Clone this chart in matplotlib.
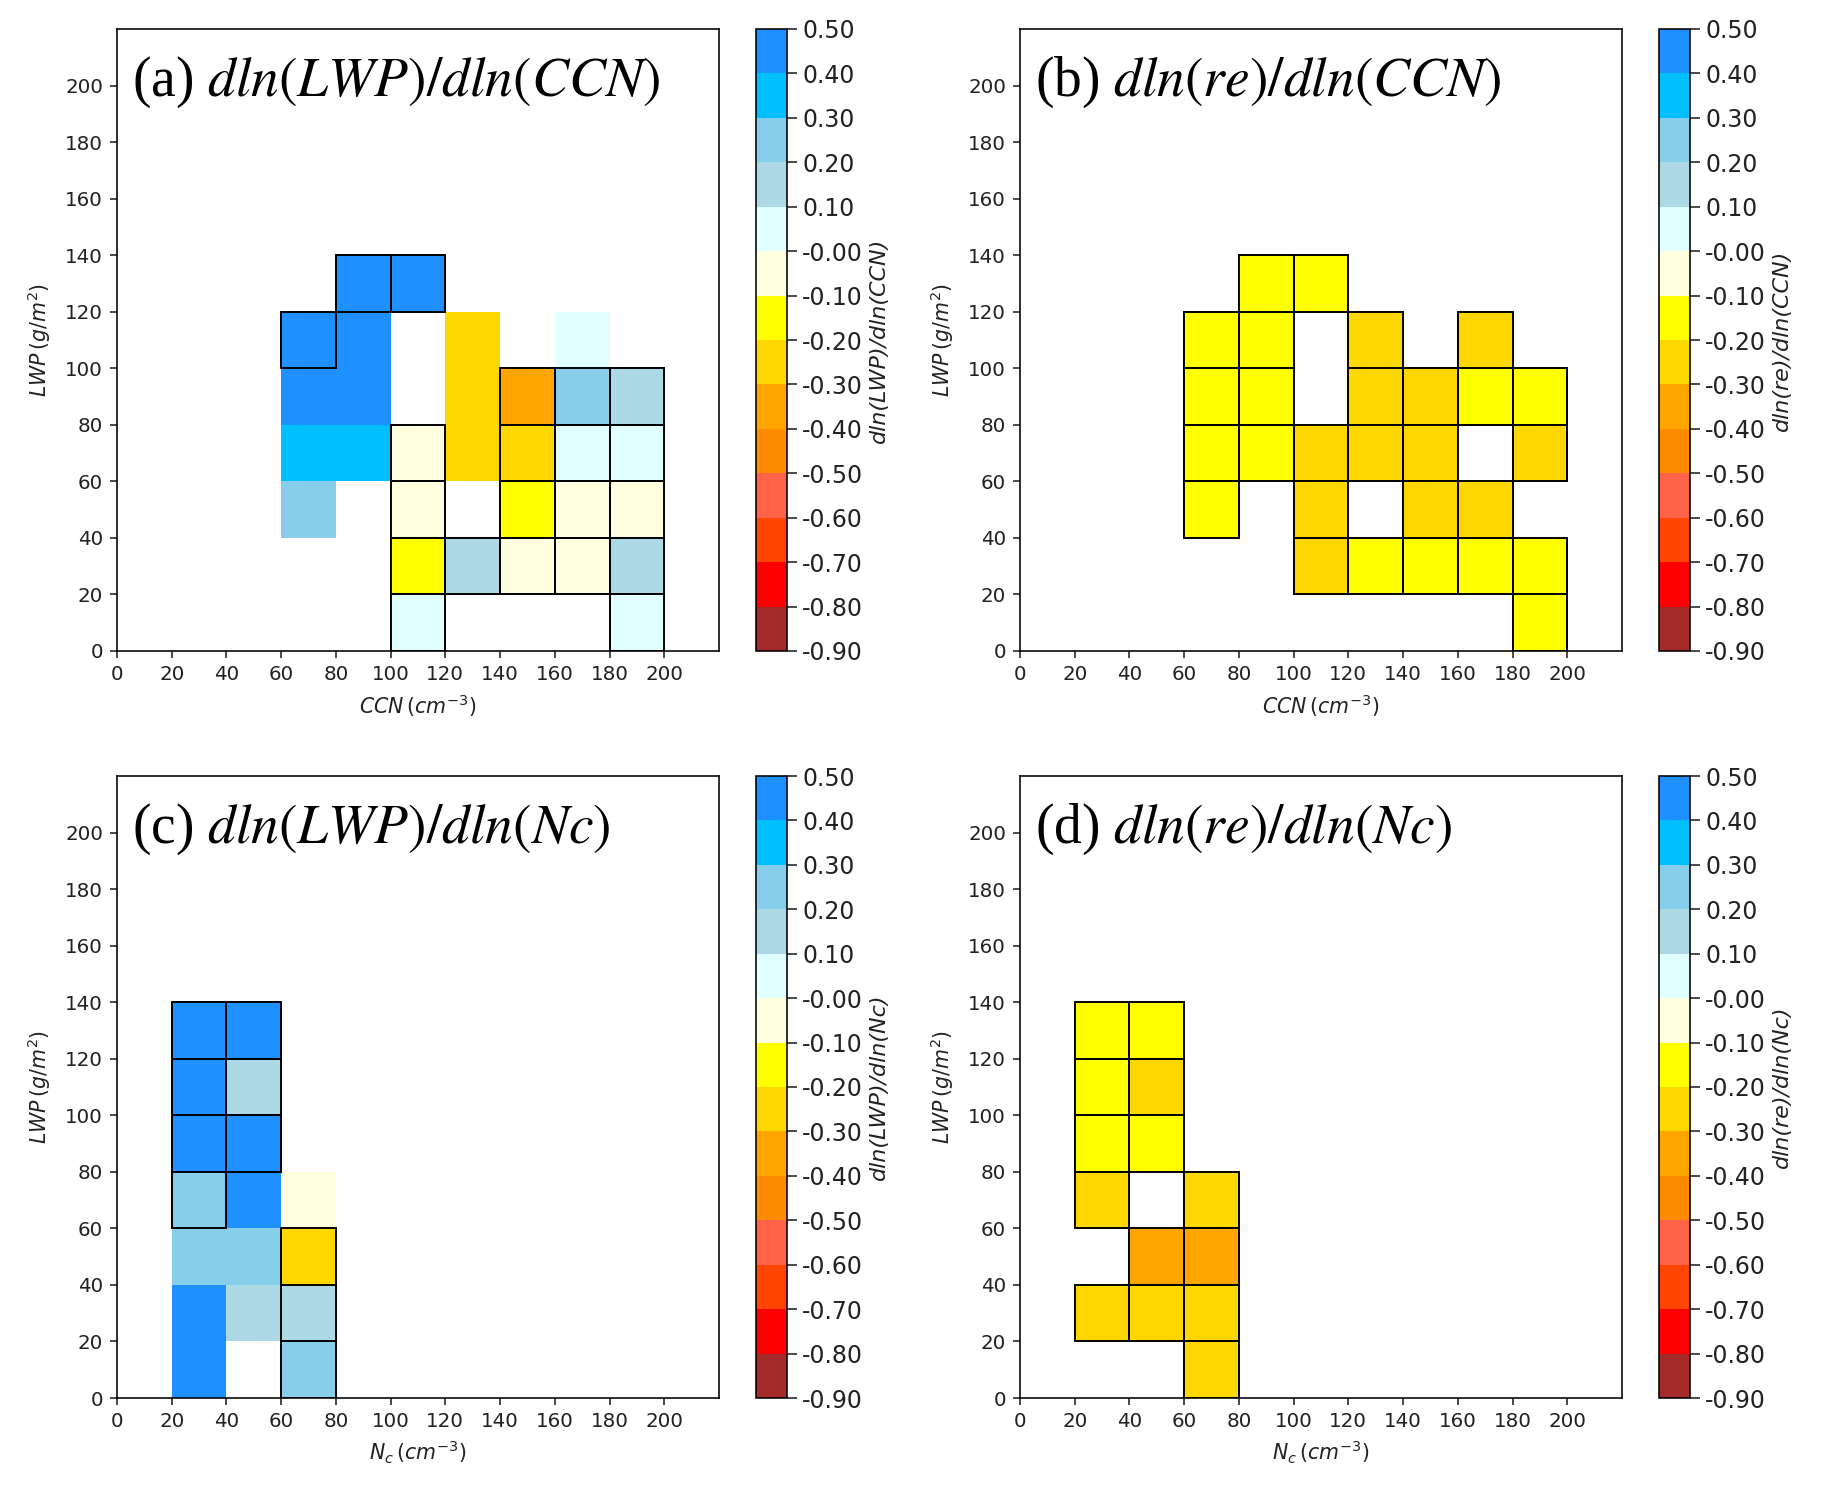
import matplotlib
matplotlib.use('Agg')
import matplotlib.pyplot as plt
import numpy as np
from matplotlib.colors import ListedColormap, BoundaryNorm
from matplotlib.patches import Rectangle

n = np.nan

# bin edges (cm^-3 and g/m^2)
x_edges = np.arange(0, 201, 20)
y_edges = np.arange(0, 201, 20)

# colour levels of the colorbar
levels = [-0.9, -0.8, -0.7, -0.6, -0.5, -0.4, -0.3, -0.2, -0.1, 0.0, 0.1, 0.2, 0.3, 0.4, 0.5]
level_labels = ['-0.90', '-0.80', '-0.70', '-0.60', '-0.50', '-0.40', '-0.30', '-0.20',
                '-0.10', '-0.00', '0.10', '0.20', '0.30', '0.40', '0.50']
colors = ['brown', 'red', 'orangered', 'tomato', 'darkorange', 'orange', 'gold', 'yellow',
          'lightyellow', 'lightcyan', 'lightblue', 'skyblue', 'deepskyblue', 'dodgerblue']

# rows written from top (180-200) to bottom (0-20)
lwp_ccn = [
    [n, n, n, n, n, n, n, n, n, n],
    [n, n, n, n, n, n, n, n, n, n],
    [n, n, n, n, n, n, n, n, n, n],
    [n, n, n, n, 0.45, 0.45, n, n, n, n],
    [n, n, n, 0.45, 0.45, n, -0.25, n, 0.05, n],
    [n, n, n, 0.45, 0.45, n, -0.25, -0.35, 0.25, 0.15],
    [n, n, n, 0.35, 0.35, -0.05, -0.25, -0.25, 0.05, 0.05],
    [n, n, n, 0.25, n, -0.05, n, -0.15, -0.05, -0.05],
    [n, n, n, n, n, -0.15, 0.15, -0.05, -0.05, 0.15],
    [n, n, n, n, n, 0.05, n, n, n, 0.05],
]
sig_lwp_ccn = [
    [0, 0, 0, 0, 0, 0, 0, 0, 0, 0],
    [0, 0, 0, 0, 0, 0, 0, 0, 0, 0],
    [0, 0, 0, 0, 0, 0, 0, 0, 0, 0],
    [0, 0, 0, 0, 1, 1, 0, 0, 0, 0],
    [0, 0, 0, 1, 0, 0, 0, 0, 0, 0],
    [0, 0, 0, 0, 0, 0, 0, 1, 1, 1],
    [0, 0, 0, 0, 0, 1, 0, 1, 1, 1],
    [0, 0, 0, 0, 0, 1, 0, 1, 1, 1],
    [0, 0, 0, 0, 0, 1, 1, 1, 1, 1],
    [0, 0, 0, 0, 0, 1, 0, 0, 0, 1],
]

re_ccn = [
    [n, n, n, n, n, n, n, n, n, n],
    [n, n, n, n, n, n, n, n, n, n],
    [n, n, n, n, n, n, n, n, n, n],
    [n, n, n, n, -0.15, -0.15, n, n, n, n],
    [n, n, n, -0.15, -0.15, n, -0.25, n, -0.25, n],
    [n, n, n, -0.15, -0.15, n, -0.25, -0.25, -0.15, -0.15],
    [n, n, n, -0.15, -0.15, -0.25, -0.25, -0.25, n, -0.25],
    [n, n, n, -0.15, n, -0.25, n, -0.25, -0.25, n],
    [n, n, n, n, n, -0.25, -0.15, -0.15, -0.15, -0.15],
    [n, n, n, n, n, n, n, n, n, -0.15],
]

lwp_nc = [
    [n, n, n, n, n, n, n, n, n, n],
    [n, n, n, n, n, n, n, n, n, n],
    [n, n, n, n, n, n, n, n, n, n],
    [n, 0.45, 0.45, n, n, n, n, n, n, n],
    [n, 0.45, 0.15, n, n, n, n, n, n, n],
    [n, 0.45, 0.45, n, n, n, n, n, n, n],
    [n, 0.25, 0.45, -0.05, n, n, n, n, n, n],
    [n, 0.25, 0.25, -0.25, n, n, n, n, n, n],
    [n, 0.45, 0.15, 0.15, n, n, n, n, n, n],
    [n, 0.45, n, 0.25, n, n, n, n, n, n],
]
sig_lwp_nc = [
    [0, 0, 0, 0, 0, 0, 0, 0, 0, 0],
    [0, 0, 0, 0, 0, 0, 0, 0, 0, 0],
    [0, 0, 0, 0, 0, 0, 0, 0, 0, 0],
    [0, 1, 1, 0, 0, 0, 0, 0, 0, 0],
    [0, 1, 1, 0, 0, 0, 0, 0, 0, 0],
    [0, 1, 1, 0, 0, 0, 0, 0, 0, 0],
    [0, 1, 0, 0, 0, 0, 0, 0, 0, 0],
    [0, 0, 0, 1, 0, 0, 0, 0, 0, 0],
    [0, 0, 0, 1, 0, 0, 0, 0, 0, 0],
    [0, 0, 0, 1, 0, 0, 0, 0, 0, 0],
]

re_nc = [
    [n, n, n, n, n, n, n, n, n, n],
    [n, n, n, n, n, n, n, n, n, n],
    [n, n, n, n, n, n, n, n, n, n],
    [n, -0.15, -0.15, n, n, n, n, n, n, n],
    [n, -0.15, -0.25, n, n, n, n, n, n, n],
    [n, -0.15, -0.15, n, n, n, n, n, n, n],
    [n, -0.25, n, -0.25, n, n, n, n, n, n],
    [n, n, -0.35, -0.35, n, n, n, n, n, n],
    [n, -0.25, -0.25, -0.25, n, n, n, n, n, n],
    [n, n, n, -0.25, n, n, n, n, n, n],
]

panels = [
    ('(a) ', r'$dln(LWP)/dln(CCN)$', lwp_ccn, sig_lwp_ccn, r'$CCN\,(cm^{-3})$', 'dln(LWP)/dln(CCN)'),
    ('(b) ', r'$dln(re)/dln(CCN)$', re_ccn, None, r'$CCN\,(cm^{-3})$', 'dln(re)/dln(CCN)'),
    ('(c) ', r'$dln(LWP)/dln(Nc)$', lwp_nc, sig_lwp_nc, r'$N_c\,(cm^{-3})$', 'dln(LWP)/dln(Nc)'),
    ('(d) ', r'$dln(re)/dln(Nc)$', re_nc, None, r'$N_c\,(cm^{-3})$', 'dln(re)/dln(Nc)'),
]

W, H = 1821, 1492
ax_pos = [(117, 29), (1020, 29), (117, 776), (1020, 776)]
cb_x = [756, 1659, 756, 1659]
ax_w, ax_h, cb_w = 602, 622, 31

cmap = ListedColormap(colors)
norm = BoundaryNorm(levels, cmap.N)

plt.rcParams['axes.linewidth'] = 1.15
fig = plt.figure(figsize=(W / 100, H / 100), dpi=100)

for i, (tag, expr, vals, sig, xlab, cblab) in enumerate(panels):
    px, py = ax_pos[i]
    ax = fig.add_axes([px / W, 1 - (py + ax_h) / H, ax_w / W, ax_h / H])
    z = np.ma.masked_invalid(np.flipud(np.array(vals, dtype=float)))
    mesh = ax.pcolormesh(x_edges, y_edges, z, cmap=cmap, norm=norm)

    # black outline on significant cells
    if sig is None:
        s = ~z.mask
    else:
        s = np.flipud(np.array(sig, dtype=bool))
    for r in range(s.shape[0]):
        for c in range(s.shape[1]):
            if s[r, c]:
                ax.add_patch(Rectangle((x_edges[c], y_edges[r]), x_edges[c + 1] - x_edges[c],
                                       y_edges[r + 1] - y_edges[r], fill=False,
                                       edgecolor='black', linewidth=1.4))

    ax.set_xlim(0, 220)
    ax.set_ylim(0, 220)
    ax.set_xticks(np.arange(0, 201, 20))
    ax.set_yticks(np.arange(0, 201, 20))
    ax.tick_params(labelsize=14.3, length=5, width=1.15, pad=5, colors='#222222')
    ax.set_xlabel(xlab, fontsize=14.8, labelpad=6, color='#222222')
    ax.set_ylabel(r'$LWP\,(g/m^2)$', fontsize=14.8, labelpad=9, color='#222222')
    ax.text(0.025, 201, tag + expr, transform=ax.get_yaxis_transform(), ha='left', va='center',
            fontsize=40, family='Liberation Serif', math_fontfamily='stix')

    cax = fig.add_axes([cb_x[i] / W, 1 - (py + ax_h) / H, cb_w / W, ax_h / H])
    cb = fig.colorbar(mesh, cax=cax, ticks=levels)
    cb.ax.set_yticklabels(level_labels)
    cb.ax.tick_params(labelsize=17, length=7, width=1.15, pad=4, colors='#222222')
    cb.outline.set_linewidth(1.15)
    cb.set_label(cblab, fontsize=16, fontstyle='italic', labelpad=4, color='#222222')

fig.savefig('out.png', dpi=100)
